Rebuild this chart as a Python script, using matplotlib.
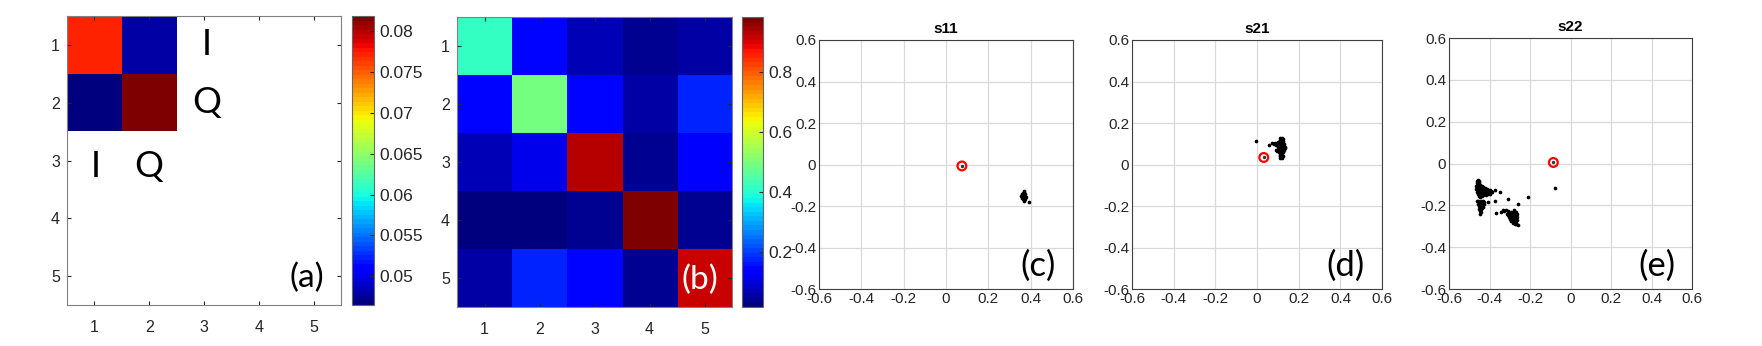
import numpy as np
import matplotlib
matplotlib.use("Agg")
import matplotlib.pyplot as plt

plt.rcParams['font.family'] = ['Liberation Sans', 'DejaVu Sans']

# panel (a): 2x2 IQ covariance inside a 5x5 grid (rest blank)
cov_iq = [[0.0772, 0.0480],
          [0.0466, 0.0818]]
cov_a_lim = (0.0465, 0.0818)
cbar_a_ticks = [0.05, 0.055, 0.06, 0.065, 0.07, 0.075, 0.08]
cbar_a_labels = ['0.05', '0.055', '0.06', '0.065', '0.07', '0.075', '0.08']

# panel (b): 5x5 matrix
mat_b = [[0.41, 0.15, 0.075, 0.035, 0.055],
         [0.14, 0.49, 0.14, 0.055, 0.18],
         [0.07, 0.11, 0.935, 0.04, 0.13],
         [0.03, 0.03, 0.045, 0.98, 0.04],
         [0.06, 0.18, 0.15, 0.04, 0.92]]
mat_b_lim = (0.017, 0.983)
cbar_b_ticks = [0.2, 0.4, 0.6, 0.8]

grid_ticks = [1, 2, 3, 4, 5]
sc_ticks = [-0.6, -0.4, -0.2, 0, 0.2, 0.4, 0.6]
sc_labels = ['-0.6', '-0.4', '-0.2', '0', '0.2', '0.4', '0.6']

# panel (c) s11
s11_x = [0.356, 0.360, 0.364, 0.368, 0.372, 0.376, 0.358, 0.362, 0.366, 0.370, 0.374,
         0.360, 0.364, 0.368, 0.372, 0.362, 0.366, 0.370, 0.366, 0.369, 0.390]
s11_y = [-0.150, -0.148, -0.146, -0.150, -0.152, -0.156, -0.160, -0.162, -0.158, -0.160, -0.164,
         -0.140, -0.136, -0.134, -0.140, -0.168, -0.170, -0.168, -0.130, -0.174, -0.183]
s11_ref = (0.075, -0.007)

# panel (d) s21
s21_x = [-0.003, 0.057, 0.072, 0.080, 0.085, 0.090, 0.095,
         0.112, 0.118, 0.122, 0.108, 0.114, 0.120, 0.126, 0.100, 0.106, 0.112, 0.118, 0.124, 0.130,
         0.092, 0.098, 0.104, 0.110, 0.116, 0.122, 0.128, 0.134, 0.100, 0.106, 0.112, 0.118, 0.124, 0.132,
         0.104, 0.110, 0.116, 0.122, 0.128, 0.106, 0.112, 0.118, 0.124, 0.108, 0.114, 0.120,
         0.110, 0.116, 0.122, 0.112, 0.118]
s21_y = [0.113, 0.095, 0.102, 0.098, 0.104, 0.072, 0.066,
         0.128, 0.130, 0.124, 0.118, 0.120, 0.118, 0.114, 0.108, 0.110, 0.108, 0.106, 0.104, 0.100,
         0.094, 0.096, 0.094, 0.092, 0.090, 0.088, 0.086, 0.084, 0.082, 0.080, 0.078, 0.076, 0.074, 0.078,
         0.068, 0.066, 0.064, 0.066, 0.070, 0.058, 0.056, 0.054, 0.058, 0.048, 0.046, 0.048,
         0.040, 0.038, 0.040, 0.032, 0.032]
s21_ref = (0.032, 0.034)

# panel (e) s22
s22_x = [-0.077, -0.208, -0.260, -0.280, -0.308, -0.350, -0.372, -0.372, -0.410, -0.367, -0.333,
         -0.462, -0.458, -0.454, -0.450, -0.462, -0.458, -0.454, -0.450, -0.446, -0.466, -0.460, -0.454,
         -0.448, -0.442, -0.436, -0.430, -0.466, -0.460, -0.454, -0.448, -0.442, -0.436, -0.430, -0.424,
         -0.418, -0.412, -0.406, -0.400, -0.394, -0.388, -0.460, -0.452, -0.444, -0.436, -0.428, -0.420,
         -0.412, -0.404, -0.396, -0.456, -0.448, -0.440, -0.432, -0.424, -0.416, -0.408, -0.454, -0.446,
         -0.438, -0.430,
         -0.462, -0.456, -0.450, -0.444, -0.438, -0.432, -0.426, -0.458, -0.450, -0.442, -0.434, -0.426,
         -0.454, -0.446, -0.438, -0.430, -0.450, -0.442, -0.436, -0.446, -0.440, -0.448,
         -0.345, -0.330, -0.318, -0.310, -0.302, -0.296, -0.290, -0.284, -0.276, -0.270, -0.264,
         -0.316, -0.308, -0.300, -0.292, -0.286, -0.280, -0.272, -0.266, -0.304, -0.296, -0.288,
         -0.280, -0.272, -0.266, -0.298, -0.290, -0.282, -0.274, -0.268, -0.292, -0.284, -0.276,
         -0.270, -0.262]
s22_y = [-0.117, -0.160, -0.192, -0.220, -0.172, -0.135, -0.128, -0.180, -0.185, -0.235, -0.224,
         -0.082, -0.080, -0.084, -0.090, -0.094, -0.092, -0.096, -0.100, -0.104, -0.106, -0.108, -0.110,
         -0.112, -0.110, -0.108, -0.110, -0.120, -0.122, -0.124, -0.122, -0.120, -0.118, -0.116, -0.118,
         -0.122, -0.124, -0.128, -0.126, -0.130, -0.134, -0.134, -0.136, -0.132, -0.130, -0.132, -0.136,
         -0.138, -0.140, -0.144, -0.146, -0.148, -0.144, -0.142, -0.146, -0.150, -0.148, -0.156, -0.158,
         -0.154, -0.152,
         -0.180, -0.178, -0.182, -0.180, -0.184, -0.178, -0.182, -0.192, -0.194, -0.190, -0.196, -0.192,
         -0.204, -0.206, -0.202, -0.208, -0.216, -0.218, -0.214, -0.226, -0.230, -0.240,
         -0.232, -0.226, -0.224, -0.228, -0.232, -0.230, -0.236, -0.232, -0.238, -0.234, -0.242,
         -0.240, -0.244, -0.246, -0.242, -0.248, -0.250, -0.252, -0.256, -0.256, -0.258, -0.262,
         -0.260, -0.266, -0.270, -0.266, -0.270, -0.276, -0.278, -0.282, -0.276, -0.282, -0.288,
         -0.290, -0.294]
s22_ref = (-0.085, 0.005)

cmap = plt.get_cmap('jet', 64)
tick_col = '0.15'
fig = plt.figure(figsize=(17.62, 3.46), dpi=100)


def style_heat(ax):
    ax.set_xticks(grid_ticks)
    ax.set_yticks(grid_ticks)
    ax.set_xlim(0.5, 5.5)
    ax.set_ylim(5.5, 0.5)
    ax.tick_params(direction='in', top=True, right=True, length=3, labelsize=11.5,
                   colors=tick_col, pad=5)
    ax.tick_params(axis='x', pad=11)
    for s in ax.spines.values():
        s.set_color('0.5')


def style_cbar(cb):
    cb.outline.set_edgecolor('0.4')
    cb.ax.tick_params(direction='in', length=3, labelsize=12.5, colors=tick_col, pad=4)


# (a)
ax_a = fig.add_axes([0.0380, 0.1185, 0.1555, 0.835])
full_a = np.full((5, 5), np.nan)
full_a[:2, :2] = cov_iq
im_a = ax_a.imshow(np.ma.masked_invalid(full_a), cmap=cmap, vmin=cov_a_lim[0], vmax=cov_a_lim[1],
                   extent=(0.5, 5.5, 5.5, 0.5), aspect='auto', interpolation='nearest')
style_heat(ax_a)
for x, y, t in [(3.05, 1.0, 'I'), (3.05, 2.0, 'Q'), (1.02, 3.1, 'I'), (2.0, 3.1, 'Q')]:
    ax_a.text(x, y, t, fontsize=26, family='Lato', ha='center', va='center', color='black')
ax_a.text(0.94, 0.04, '(a)', transform=ax_a.transAxes, fontsize=24, family='Lato',
          ha='right', va='bottom')
cax_a = fig.add_axes([0.1998, 0.1185, 0.0125, 0.835])
cb_a = fig.colorbar(im_a, cax=cax_a, ticks=cbar_a_ticks)
cb_a.ax.set_yticklabels(cbar_a_labels)
style_cbar(cb_a)

# (b)
ax_b = fig.add_axes([0.2594, 0.1127, 0.1561, 0.838])
im_b = ax_b.imshow(np.array(mat_b), cmap=cmap, vmin=mat_b_lim[0], vmax=mat_b_lim[1],
                   extent=(0.5, 5.5, 5.5, 0.5), aspect='auto', interpolation='nearest')
style_heat(ax_b)
ax_b.text(0.95, 0.04, '(b)', transform=ax_b.transAxes, fontsize=24, family='Lato',
          ha='right', va='bottom', color='white')
cax_b = fig.add_axes([0.4211, 0.1127, 0.0119, 0.838])
cb_b = fig.colorbar(im_b, cax=cax_b, ticks=cbar_b_ticks)
style_cbar(cb_b)

# (c)-(e)
panels = [([0.4648, 0.1647, 0.1442, 0.7197], 's11', s11_x, s11_y, s11_ref, '(c)'),
          ([0.6425, 0.1647, 0.1419, 0.7197], 's21', s21_x, s21_y, s21_ref, '(d)'),
          ([0.8224, 0.1647, 0.1379, 0.7254], 's22', s22_x, s22_y, s22_ref, '(e)')]
for rect, title, xs, ys, ref, lab in panels:
    ax = fig.add_axes(rect)
    ax.scatter(xs, ys, s=7, c='black', marker='o', linewidths=0, zorder=3)
    ax.scatter([ref[0]], [ref[1]], s=40, facecolors='none', edgecolors='red',
               linewidths=1.6, zorder=4)
    ax.scatter([ref[0]], [ref[1]], s=2, c='0.2', zorder=5)
    ax.set_xlim(-0.6, 0.6)
    ax.set_ylim(-0.6, 0.6)
    ax.set_xticks(sc_ticks)
    ax.set_xticklabels(sc_labels)
    ax.set_yticks(sc_ticks)
    ax.set_yticklabels(sc_labels)
    ax.grid(True, color='0.85', linewidth=0.9)
    ax.set_axisbelow(True)
    ax.tick_params(length=0, labelsize=11, colors=tick_col, pad=2)
    for s in ax.spines.values():
        s.set_color('0.25')
    ax.set_title(title, fontsize=11, fontweight='bold', pad=5)
    ax.text(0.93, 0.03, lab, transform=ax.transAxes, fontsize=25, family='Lato',
            ha='right', va='bottom')

fig.savefig('out.png', dpi=100)
